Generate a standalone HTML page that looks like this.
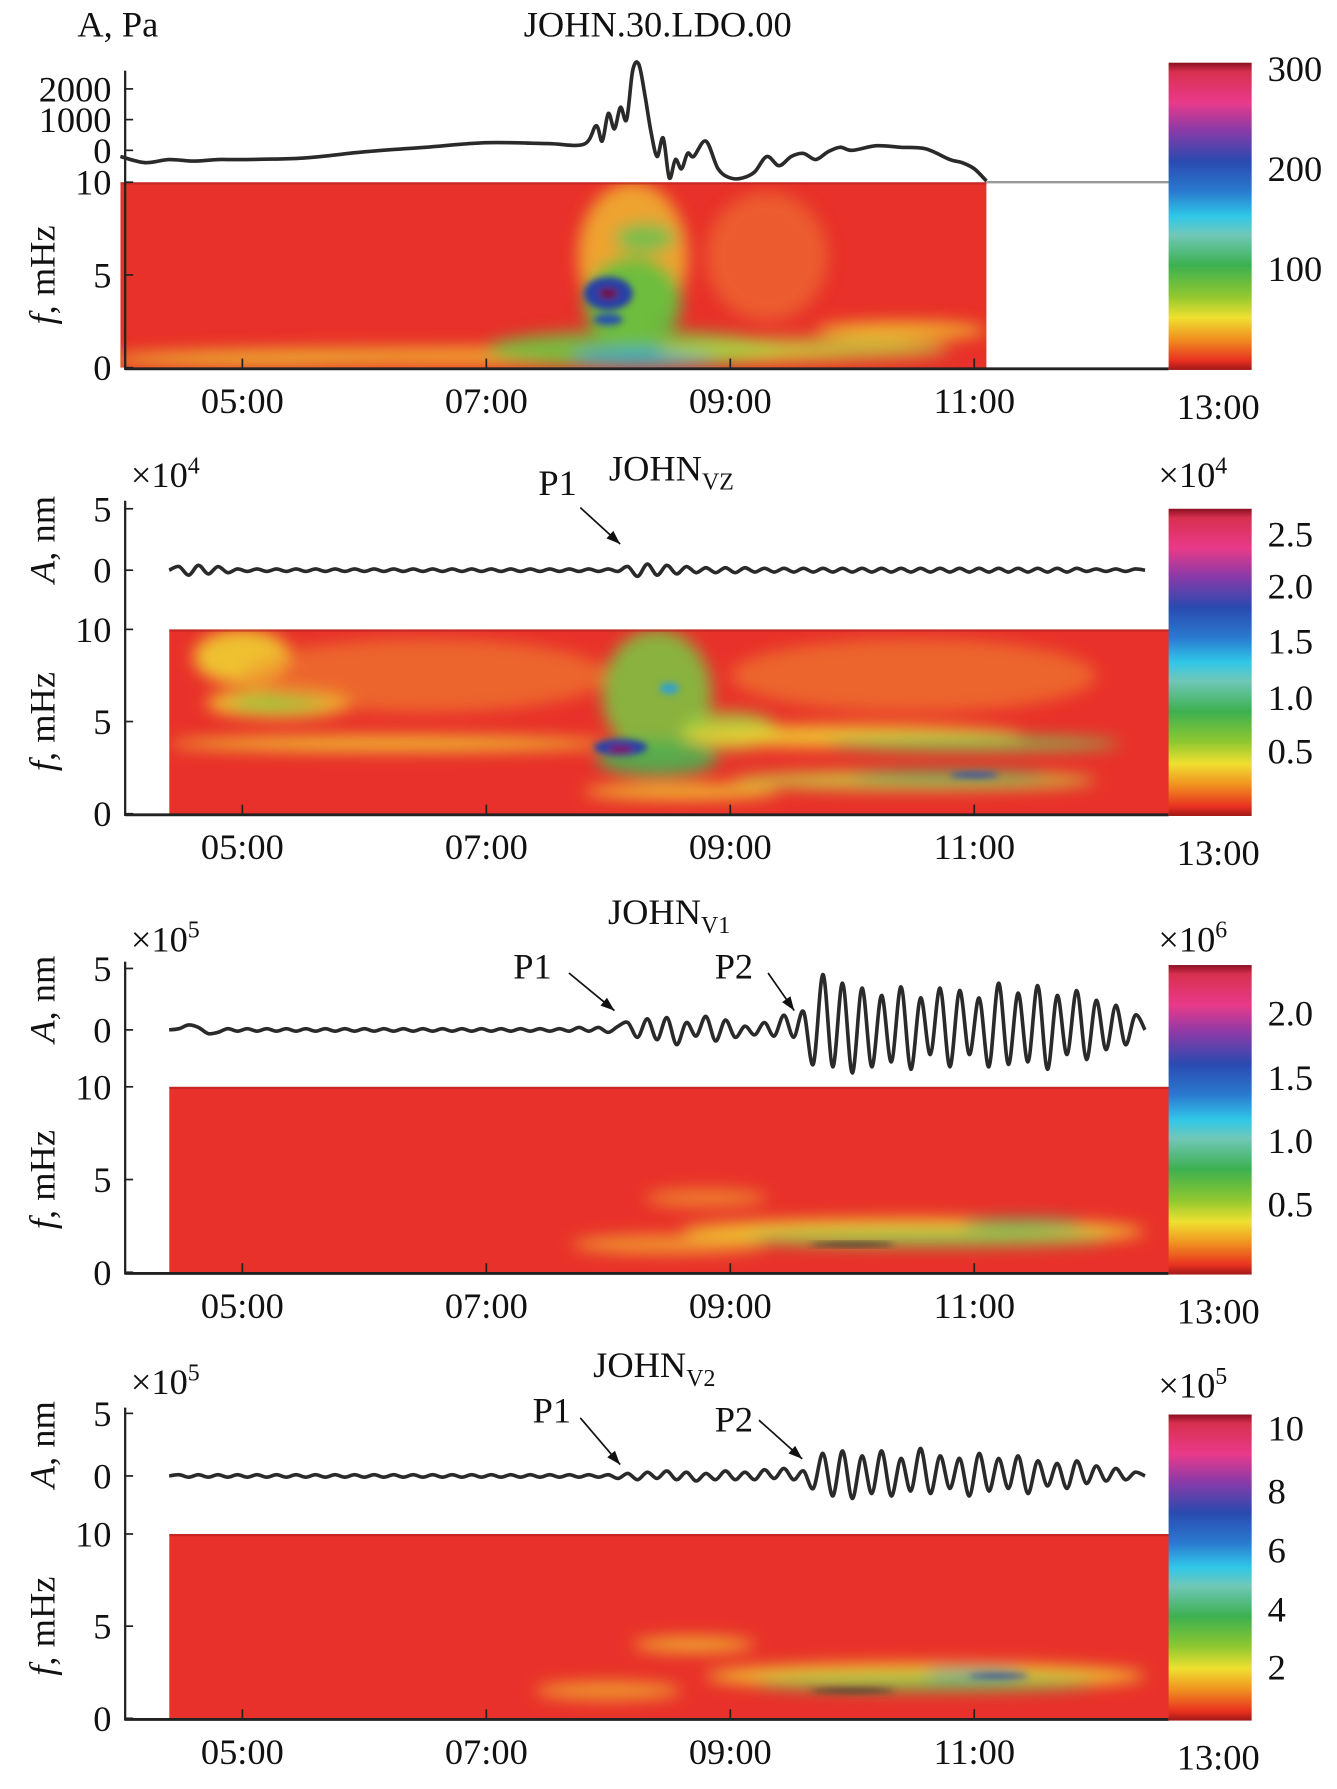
<!DOCTYPE html>
<html><head><meta charset="utf-8"><style>
html,body{margin:0;padding:0;background:#fff;}
svg{display:block;}
text{font-family:"Liberation Serif",serif;fill:#111;}
</style></head><body>
<svg id="fig" width="1337" height="1789" viewBox="0 0 1175 1572" xmlns="http://www.w3.org/2000/svg">
<defs>
<filter id="bl" x="-50%" y="-50%" width="200%" height="200%"><feGaussianBlur stdDeviation="7"/></filter>
<filter id="bl2" x="-50%" y="-50%" width="200%" height="200%"><feGaussianBlur stdDeviation="3"/></filter>
<linearGradient id="cb" x1="0" y1="0" x2="0" y2="1">
<stop offset="0" stop-color="#8a1020"/><stop offset="0.03" stop-color="#d83050"/><stop offset="0.13" stop-color="#e83a8a"/>
<stop offset="0.22" stop-color="#8a3aa8"/><stop offset="0.32" stop-color="#2a4ab0"/><stop offset="0.42" stop-color="#2a7ad0"/>
<stop offset="0.5" stop-color="#30c8e8"/><stop offset="0.56" stop-color="#70c8b8"/><stop offset="0.66" stop-color="#3cb050"/>
<stop offset="0.76" stop-color="#90c830"/><stop offset="0.83" stop-color="#f0e030"/><stop offset="0.9" stop-color="#f09020"/>
<stop offset="0.97" stop-color="#e83020"/><stop offset="1" stop-color="#a01818"/>
</linearGradient>
</defs>
</svg>
<script>
// ---- data ----
const timeTicks = [5, 7, 9, 11, 13];
const timeTickLabels = ["05:00", "07:00", "09:00", "11:00", "13:00"];
const pressTimes = [4.0,4.2,4.4,4.6,4.8,5.0,5.5,6.0,6.5,7.0,7.5,7.8,7.9,7.95,8.0,8.05,8.1,8.15,8.2,8.25,8.3,8.35,8.4,8.45,8.5,8.55,8.6,8.65,8.7,8.8,8.9,9.0,9.1,9.2,9.3,9.4,9.5,9.6,9.7,9.8,9.9,10.0,10.2,10.4,10.6,10.8,10.9,11.0,11.1];
const pressValues = [-200,-400,-300,-350,-300,-300,-250,-50,100,250,220,200,800,300,1200,700,1400,1000,2600,2800,1800,600,-200,400,-900,-300,-600,-100,-200,300,-600,-900,-900,-700,-200,-500,-200,-100,-300,-50,100,0,150,100,50,-300,-400,-600,-1000];
const pressTicks = [2000, 1000, 0];
const vzValues = [0,0.3,-0.4,0.4,-0.3,0.3,-0.2,0.1,-0.1,0.1,-0.1,0.1,-0.1,0.1,-0.1,0.1,-0.1,0.1,-0.1,0.1,-0.1,0.1,-0.1,0.1,-0.1,0.1,-0.1,0.1,-0.1,0.1,-0.1,0.1,-0.1,0.1,-0.1,0.1,-0.1,0.1,-0.1,0.1,-0.1,0.1,-0.1,0.1,-0.1,0.1,-0.1,
  0.3,-0.5,0.5,-0.4,0.4,-0.3,0.3,-0.2,0.2,-0.2,0.2,-0.2,0.2,-0.15,0.15,-0.15,0.15,-0.15,0.15,-0.15,0.15,-0.15,0.15,-0.15,0.15,-0.15,0.15,-0.15,0.15,-0.15,0.15,-0.15,0.15,-0.15,0.15,-0.15,0.15,-0.15,0.15,-0.15,0.15,-0.15,0.15,-0.15,0.15,-0.15,0.15,-0.1,0.1,-0.1,0.1,-0.1,0.1,0];
const v1Values = [0,0.1,0.4,0.2,-0.3,-0.2,0.1,-0.1,0.1,-0.1,0.1,-0.1,0.1,-0.1,0.1,-0.1,0.1,-0.1,0.1,-0.1,0.1,-0.1,0.1,-0.1,0.1,-0.1,0.1,-0.1,0.1,-0.1,0.1,-0.1,0.1,-0.1,0.1,-0.1,0.1,-0.1,0.1,-0.1,0.1,-0.1,0.2,-0.1,0.2,-0.2,0.3,
  0.6,-0.6,0.9,-0.8,1.0,-1.2,0.6,-0.5,1.1,-0.9,0.8,-0.6,0.3,-0.4,0.6,-0.5,1.2,-0.6,
  1.5,-2.8,4.5,-3.0,3.8,-3.5,3.4,-3.0,2.8,-2.6,3.5,-3.2,2.6,-2.0,3.4,-3.0,3.2,-2.0,2.6,-3.0,3.8,-2.8,3.0,-2.6,3.6,-3.2,2.8,-2.0,3.2,-2.4,2.4,-1.6,2.0,-1.2,1.2,0];
const v2Values = [0,0.1,-0.1,0.1,-0.1,0.1,-0.1,0.1,-0.1,0.1,-0.1,0.1,-0.1,0.1,-0.1,0.1,-0.1,0.1,-0.1,0.1,-0.1,0.1,-0.1,0.1,-0.1,0.1,-0.1,0.1,-0.1,0.1,-0.1,0.1,-0.1,0.1,-0.1,0.1,-0.1,0.1,-0.1,0.1,-0.1,0.1,-0.1,0.1,-0.1,0.1,-0.2,
  0.2,-0.3,0.3,-0.2,0.4,-0.3,0.3,-0.4,0.2,-0.3,0.4,-0.3,0.3,-0.3,0.5,-0.2,0.6,-0.3,
  0.4,-1.0,1.8,-1.6,2.0,-1.8,1.6,-1.4,2.0,-1.6,1.4,-1.2,2.2,-1.4,1.6,-1.0,1.4,-1.6,1.8,-1.2,1.4,-1.0,1.6,-1.4,1.2,-0.8,1.0,-1.0,1.2,-0.6,0.8,-0.4,0.6,-0.3,0.3,0];
const waveStart = 4.4;
const waveStep = 0.08;
// spectrogram blobs: [time(h), freq(mHz), halfwidth(h), halfheight(mHz), colour, opacity]
const spec1Blobs = [[7.0,0.6,3.0,0.5,"#f0c030",0.8],[5.0,0.4,1.2,0.4,"#e8b030",0.8],[8.2,6.0,0.45,4.0,"#f0c830",0.75],[8.2,3.5,0.4,2.5,"#60c040",0.9],[8.3,7.0,0.25,0.8,"#70c050",0.9],[8.2,1.0,1.2,1.0,"#70c040",0.9],[8.3,0.6,0.6,0.5,"#40a8c8",0.9],[9.3,6,0.5,3.5,"#f09030",0.45],[10.4,2.0,0.7,0.5,"#f0d030",0.8],[9.6,1.0,1.2,0.6,"#c0d040",0.8]];
const spec1Core = [[8.0,4.0,0.2,0.9,"#2840a8"],[8.0,4.0,0.08,0.3,"#701040"],[8.0,2.6,0.12,0.3,"#2850b0"]];
const spec2Blobs = [[5.0,8.5,0.4,1.5,"#f0d030",0.9],[5.3,6.0,0.6,0.8,"#f0d030",0.9],[5.3,6.0,0.4,0.4,"#80c040",0.9],[6.2,3.8,1.8,0.4,"#f0d030",0.9],[6.5,7.5,1.5,2.0,"#f09030",0.55],[8.4,6.5,0.45,3.5,"#80c040",0.9],[8.4,3.0,0.5,1.0,"#50b050",0.9],[9.0,4.5,0.4,1.0,"#a0d040",0.9],[10.0,4.2,1.4,0.6,"#f0d030",0.9],[11.0,3.8,1.2,0.4,"#80c050",0.9],[10.5,1.8,1.5,0.5,"#c8d040",0.9],[10.8,2.0,0.8,0.3,"#50b060",0.9],[10.5,7.5,1.5,2.0,"#f09030",0.55],[8.6,1.2,0.8,0.4,"#f0d030",0.9]];
const spec2Core = [[8.1,3.6,0.22,0.45,"#2840a8"],[8.1,3.5,0.1,0.2,"#801060"],[8.5,6.8,0.08,0.3,"#30a0d0"],[11.0,2.1,0.2,0.15,"#2850b0"]];
const spec3Blobs = [[8.8,4.0,0.5,0.5,"#f0a030",0.7],[10.5,2.2,1.9,0.7,"#f0d030",0.9],[10.6,1.8,1.5,0.4,"#80c050",0.9],[11.4,2.6,0.5,0.3,"#60b060",0.9],[8.5,1.5,0.8,0.5,"#f0b030",0.8]];
const spec3Core = [[10.0,1.5,0.35,0.12,"#303030"]];
const spec4Blobs = [[8.7,4.0,0.5,0.4,"#f0d030",0.8],[10.6,2.3,1.8,0.7,"#f0d030",0.9],[10.6,1.9,1.4,0.4,"#70c050",0.9],[8.0,1.5,0.6,0.5,"#f0b030",0.8],[11.0,2.4,0.4,0.2,"#40a0c0",0.9]];
const spec4Core = [[10.0,1.5,0.35,0.12,"#303030"],[11.2,2.3,0.25,0.12,"#2840a0"]];
const cb1Labels = ["300","200","100"];
const cb2Labels = ["2.5","2.0","1.5","1.0","0.5"];
const cb3Labels = ["2.0","1.5","1.0","0.5"];
const cb4Labels = ["10","8","6","4","2"];

// ---- drawing ----
const NS = "http://www.w3.org/2000/svg";
const svg = document.getElementById("fig");
const FS = 32;
const X = h => 213 + (h - 5) * 107.2;
function el(tag, attrs, parent) {
  const e = document.createElementNS(NS, tag);
  for (const k in attrs) e.setAttribute(k, attrs[k]);
  (parent || svg).appendChild(e);
  return e;
}
function txt(str, x, y, size, anchor, parent, name) {
  const t = el("text", {x: x, y: y, "font-size": size, "text-anchor": anchor || "middle"}, parent);
  t.textContent = str;
  
  
  return t;
}
function smoothPath(pts) {
  let d = "M" + pts[0][0] + "," + pts[0][1];
  for (let i = 0; i < pts.length - 1; i++) {
    const p0 = pts[Math.max(0, i - 1)], p1 = pts[i], p2 = pts[i + 1], p3 = pts[Math.min(pts.length - 1, i + 2)];
    const c1x = p1[0] + (p2[0] - p0[0]) / 6, c1y = p1[1] + (p2[1] - p0[1]) / 6;
    const c2x = p2[0] - (p3[0] - p1[0]) / 6, c2y = p2[1] - (p3[1] - p1[1]) / 6;
    d += " C" + c1x + "," + c1y + " " + c2x + "," + c2y + " " + p2[0] + "," + p2[1];
  }
  return d;
}
function panel(cfg, idx) {
  const g = el("g", {});
  
  
  const fy = f => cfg.sBot - f / 10 * (cfg.sBot - cfg.sTop);
  const sx0 = X(cfg.t0), sx1 = X(cfg.t1);
  const clipId = "clip" + idx;
  const cp = el("clipPath", {id: clipId}, g);
  el("rect", {x: sx0, y: cfg.sTop, width: sx1 - sx0, height: cfg.sBot - cfg.sTop}, cp);
  const sg = el("g", {"clip-path": "url(#" + clipId + ")"}, g);
  
  
  el("rect", {x: sx0, y: cfg.sTop, width: sx1 - sx0, height: cfg.sBot - cfg.sTop, fill: "#e8312a"}, sg);
  const bg = el("g", {filter: "url(#bl)"}, sg);
  cfg.blobs.forEach(b => {
    const e = el("ellipse", {cx: X(b[0]), cy: fy(b[1]), rx: b[2] * 107.2, ry: b[3] / 10 * (cfg.sBot - cfg.sTop), fill: b[4], opacity: b[5]}, bg);
    
    
  });
  const cg = el("g", {filter: "url(#bl2)"}, sg);
  cfg.core.forEach(b => {
    const e = el("ellipse", {cx: X(b[0]), cy: fy(b[1]), rx: b[2] * 107.2, ry: b[3] / 10 * (cfg.sBot - cfg.sTop), fill: b[4]}, cg);
    
    
  });
  el("rect", {x: sx0, y: cfg.sTop - 1, width: sx1 - sx0, height: 3, fill: "#b02020", opacity: 0.6}, sg);
  el("line", {x1: 110, y1: cfg.axTop, x2: 110, y2: cfg.sBot + 2, stroke: "#222", "stroke-width": 2}, g);
  el("line", {x1: 110, y1: cfg.sBot + 1, x2: 1027, y2: cfg.sBot + 1, stroke: "#222", "stroke-width": 2.5}, g);
  if (cfg.greyTop) el("line", {x1: sx1, y1: cfg.sTop, x2: 1027, y2: cfg.sTop, stroke: "#999", "stroke-width": 2}, g);
  timeTicks.forEach((t, i) => {
    if (t < 13) el("line", {x1: X(t), y1: cfg.sBot, x2: X(t), y2: cfg.sBot - 8, stroke: "#222", "stroke-width": 1.5}, g);
    txt(timeTickLabels[i], X(t), cfg.sBot + (t === 13 ? 45 : 40), FS, "middle", g, 'x-tick-label');
  });
  [[10, "10"], [5, "5"], [0, "0"]].forEach(f => {
    el("line", {x1: 110, y1: fy(f[0]), x2: 117, y2: fy(f[0]), stroke: "#222", "stroke-width": 1.5}, g);
    txt(f[1], 98, fy(f[0]) + 11, FS, "end", g, 'freq-tick-label');
  });
  const fl = txt("", 0, 0, FS, "middle", g, 'freq-axis-title');
  fl.setAttribute("transform", "translate(48," + (cfg.sTop + cfg.sBot) / 2 + ") rotate(-90)");
  fl.innerHTML = '<tspan font-style="italic">f</tspan>, mHz';
  const cbr = el("rect", {x: 1027, y: cfg.cbTop, width: 73, height: cfg.sBot + 2 - cfg.cbTop, fill: "url(#cb)"}, g);
  
  
  cfg.cbLabels.forEach((l, i) => txt(l, 1114, cfg.cbLabY[i] + 11, FS, "start", g, 'colorbar-label'));
  const pts = cfg.trace.map(p => [X(p[0]), cfg.ay0 - p[1] * cfg.ascale]);
  const tr = el("path", {d: smoothPath(pts), fill: "none", stroke: "#2a2a2a", "stroke-width": 3.2, "stroke-linejoin": "round"}, g);
  
  
  return {g, fy};
}
function arrow(g, x1, y1, x2, y2) {
  el("line", {x1: x1, y1: y1, x2: x2, y2: y2, stroke: "#111", "stroke-width": 1.5}, g);
  const a = Math.atan2(y2 - y1, x2 - x1), L = 13;
  const p = [[x2, y2], [x2 - L * Math.cos(a - 0.35), y2 - L * Math.sin(a - 0.35)], [x2 - L * Math.cos(a + 0.35), y2 - L * Math.sin(a + 0.35)]];
  const pl = el("polygon", {points: p.map(q => q.join(",")).join(" "), fill: "#111"}, g);
  
  
}
function waveTrace(vals) { return vals.map((v, i) => [waveStart + i * waveStep, v]); }
function ampTicks(g, y5, y0) {
  [[y5, "5"], [y0, "0"]].forEach(t => {
    el("line", {x1: 110, y1: t[0], x2: 117, y2: t[0], stroke: "#222", "stroke-width": 1.5}, g);
    txt(t[1], 98, t[0] + 11, FS, "end", g, 'amp-tick-label');
  });
  const al = txt("", 0, 0, FS, "middle", g, 'amp-axis-title');
  al.setAttribute("transform", "translate(48," + (y5 + y0) / 2 + ") rotate(-90)");
  al.innerHTML = '<tspan font-style="italic">A</tspan>, nm';
}
function exp10(g, x, y, e, anchor) {
  const t = txt("", x, y, FS, anchor, g, 'scale-exponent');
  t.innerHTML = '×10<tspan dy="-12" font-size="21">' + e + '</tspan>';
}

// Panel 1
const p1 = panel({t0: 4.0, t1: 11.1, sTop: 160, sBot: 323, axTop: 62, greyTop: true, cbTop: 55,
  blobs: spec1Blobs, core: spec1Core, cbLabels: cb1Labels, cbLabY: [60, 148, 236],
  trace: pressTimes.map((t, i) => [t, pressValues[i]]), ay0: 132, ascale: 0.027}, 1);
pressTicks.forEach(v => {
  const y = 132 - v * 0.027;
  el("line", {x1: 110, y1: y, x2: 117, y2: y, stroke: "#222", "stroke-width": 1.5}, p1.g);
  txt(String(v), 98, y + 11, FS, "end", p1.g, 'pressure-tick-label');
});
txt("A, Pa", 68, 32, FS, "start", p1.g, 'pressure-axis-title');
txt("JOHN.30.LDO.00", 578, 32, FS, "middle", p1.g, 'panel-title');

// Panel 2
const p2 = panel({t0: 4.4, t1: 12.6, sTop: 553, sBot: 715, axTop: 440, cbTop: 447,
  blobs: spec2Blobs, core: spec2Core, cbLabels: cb2Labels, cbLabY: [469, 515, 563, 613, 660],
  trace: waveTrace(vzValues), ay0: 501, ascale: 10.8}, 2);
ampTicks(p2.g, 447, 501);
exp10(p2.g, 115, 428, 4, "start"); exp10(p2.g, 1018, 428, 4, "start");
const t2 = txt("", 590, 422, FS, "middle", p2.g, 'panel-title'); t2.innerHTML = 'JOHN<tspan dy="8" font-size="21">VZ</tspan>';
txt("P1", 490, 435, FS, "middle", p2.g, 'p1-label'); arrow(p2.g, 510, 446, 545, 478);

// Panel 3
const p3 = panel({t0: 4.4, t1: 12.6, sTop: 955, sBot: 1118, axTop: 845, cbTop: 848,
  blobs: spec3Blobs, core: spec3Core, cbLabels: cb3Labels, cbLabY: [890, 947, 1002, 1058],
  trace: waveTrace(v1Values), ay0: 905, ascale: 10.8}, 3);
ampTicks(p3.g, 851, 905);
exp10(p3.g, 115, 836, 5, "start"); exp10(p3.g, 1018, 836, 6, "start");
const t3 = txt("", 588, 812, FS, "middle", p3.g, 'panel-title'); t3.innerHTML = 'JOHN<tspan dy="8" font-size="21">V1</tspan>';
txt("P1", 468, 860, FS, "middle", p3.g, 'p1-label'); arrow(p3.g, 500, 855, 540, 888);
txt("P2", 645, 860, FS, "middle", p3.g, 'p2-label'); arrow(p3.g, 675, 855, 698, 888);

// Panel 4
const p4 = panel({t0: 4.4, t1: 12.6, sTop: 1348, sBot: 1510, axTop: 1237, cbTop: 1243,
  blobs: spec4Blobs, core: spec4Core, cbLabels: cb4Labels, cbLabY: [1255, 1310, 1362, 1414, 1465],
  trace: waveTrace(v2Values), ay0: 1297, ascale: 11}, 4);
ampTicks(p4.g, 1242, 1297);
exp10(p4.g, 115, 1225, 5, "start"); exp10(p4.g, 1018, 1228, 5, "start");
const t4 = txt("", 575, 1210, FS, "middle", p4.g, 'panel-title'); t4.innerHTML = 'JOHN<tspan dy="8" font-size="21">V2</tspan>';
txt("P1", 485, 1250, FS, "middle", p4.g, 'p1-label'); arrow(p4.g, 510, 1246, 545, 1287);
txt("P2", 645, 1258, FS, "middle", p4.g, 'p2-label'); arrow(p4.g, 667, 1248, 705, 1282);
</script>
</body></html>
